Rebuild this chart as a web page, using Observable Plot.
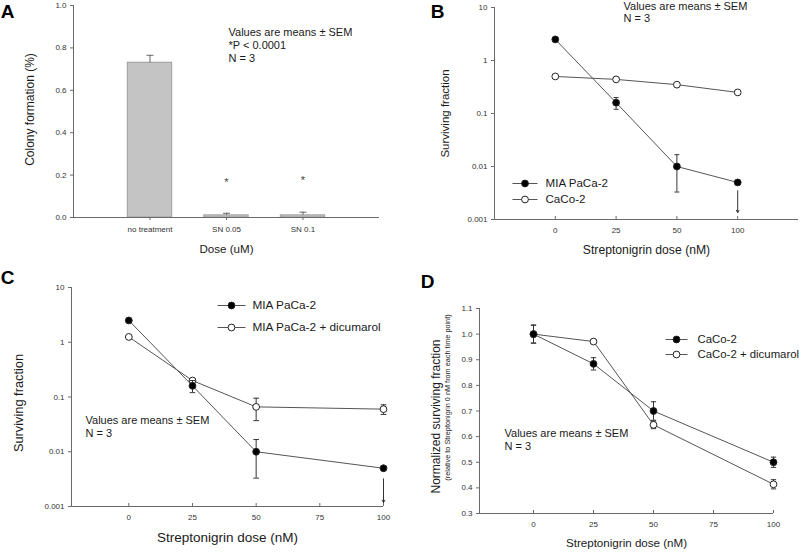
<!DOCTYPE html>
<html><head><meta charset="utf-8">
<script src="https://cdn.jsdelivr.net/npm/d3@7"></script>
<script src="https://cdn.jsdelivr.net/npm/@observablehq/plot@0.6"></script>
<style>
body{margin:0;background:#fff;}
#fig{position:relative;width:800px;height:552px;overflow:hidden;background:#fff;}
#fig svg{position:absolute;}
</style></head><body><div id="fig"></div>
<script>
// ---------- Panel A data ----------
const doseLabelsA = ["no treatment", "SN 0.05", "SN 0.1"];
const colonyMean = [0.73, 0.01, 0.01];
const colonySem = [0.035, 0.01, 0.015];
const sigMark = ["", "*", "*"];
const sigY = [null, 0.165, 0.174];
const yTicksA = [0, 0.2, 0.4, 0.6, 0.8, 1.0];

// ---------- Panel B data ----------
const doseB = [0, 25, 50, 100];          // categorical, equally spaced
const miaB = [2.5, 0.16, 0.01, 0.005];
const miaBSem = [0, 0.04, 0.0067, 0];
const cacoB = [0.5, 0.44, 0.35, 0.25];
const cacoBSem = [0, 0, 0.02, 0];
const offscaleB = {dose: 100, from: 0.0035, to: 0.00135};
const logTicks = [0.001, 0.01, 0.1, 1, 10];
const logTickLabels = ["0.001", "0.01", "0.1", "1", "10"];

// ---------- Panel C data ----------
const doseC = [0, 25, 50, 100];
const miaC = [2.5, 0.16, 0.01, 0.005];
const miaCSem = [0, 0.04, 0.0067, 0];
const dicC = [1.25, 0.2, 0.066, 0.06];
const dicCSem = [0, 0, 0.029, 0.012];
const offscaleC = {dose: 100, from: 0.0032, to: 0.00118};
const xTicksCD = [0, 25, 50, 75, 100];

// ---------- Panel D data ----------
const doseD = [0, 25, 50, 100];
const cacoD = [1.0, 0.884, 0.70, 0.50];
const cacoDSem = [0.035, 0.024, 0.036, 0.02];
const dicD = [1.0, 0.971, 0.646, 0.414];
const dicDSem = [0.035, 0, 0.015, 0.018];
const yTicksD = [0.3, 0.4, 0.5, 0.6, 0.7, 0.8, 0.9, 1.0, 1.1];

const noteLines = ["Values are means \u00b1 SEM", "N = 3"];
const noteLinesA = ["Values are means \u00b1 SEM", "*P < 0.0001", "N = 3"];

// ---------- helpers ----------
const FONT = "'Liberation Sans', Arial, Helvetica, sans-serif";
const LINE = "#555", AXIS = "#6a6a6a", TXT = "#1a1a1a", TICKTXT = "#333";
const fig = document.getElementById("fig");

function place(svg, left, top) {
  svg.style.left = left + "px";
  svg.style.top = top + "px";
  fig.appendChild(svg);
}
const baseStyle = {background: "transparent", fontFamily: FONT, fontSize: "8px", color: TICKTXT, overflow: "visible"};

function hseg(len) {
  return {draw(ctx) { ctx.moveTo(-len / 2, 0); ctx.lineTo(len / 2, 0); }};
}
function seriesMarks(xs, ys, sems, filled, capHalf) {
  const rows = xs.map((x, i) => ({x, y: ys[i], sem: sems[i]}));
  const eb = rows.filter(d => d.sem > 0).map(d => ({x: d.x, lo: d.y - d.sem, hi: d.y + d.sem}));
  const caps = eb.flatMap(d => [{x: d.x, y: d.hi}, {x: d.x, y: d.lo}]);
  return [
    Plot.line(rows, {x: "x", y: "y", stroke: LINE, strokeWidth: 1}),
    Plot.ruleX(eb, {x: "x", y1: "lo", y2: "hi", stroke: "#333", strokeWidth: 1}),
    Plot.link(caps, {x1: d => d.x - capHalf, x2: d => d.x + capHalf, y1: "y", y2: "y", stroke: "#333", strokeWidth: 1}),
    Plot.dot(rows, {x: "x", y: "y", r: 3.4, fill: filled ? "#000" : "#fff", stroke: "#222", strokeWidth: 1})
  ];
}
function legendMarks(items, {x0, x1, xt, ys, fontSize}) {
  return items.flatMap((it, k) => [
    Plot.dot([it], {frameAnchor: "top-left", dx: (x0 + x1) / 2, dy: ys[k], symbol: hseg(x1 - x0), stroke: LINE, fill: "none", strokeWidth: 1}),
    Plot.dot([it], {frameAnchor: "top-left", dx: (x0 + x1) / 2, dy: ys[k], r: 3.4, fill: it.filled ? "#000" : "#fff", stroke: "#222", strokeWidth: 1}),
    Plot.text([it.label], {frameAnchor: "top-left", dx: xt, dy: ys[k], textAnchor: "start", lineAnchor: "middle", fontSize, fill: TXT})
  ]);
}
function noteMarks(lines, dx, dys, fontSize = 11) {
  return lines.map((t, k) => Plot.text([t], {frameAnchor: "top-left", dx, dy: dys[k], textAnchor: "start", lineAnchor: "middle", fontSize, fill: TXT}));
}
function letterMark(t, dx, dy) {
  return Plot.text([t], {frameAnchor: "top-left", dx, dy, fontSize: 19, fontWeight: "bold", fill: "#000", lineAnchor: "middle", textAnchor: "middle"});
}
function yLabelMark(t, dx, dy, fontSize) {
  return Plot.text([t], {frameAnchor: "left", dx, dy, rotate: -90, fontSize, fill: TXT, lineAnchor: "middle", textAnchor: "middle"});
}
function xLabelMark(t, dy, fontSize) {
  return Plot.text([t], {frameAnchor: "bottom", dy, fontSize, fill: TXT, lineAnchor: "middle"});
}

// ---------- Panel A ----------
{
  const W = 400, H = 270, ml = 73, mr = 21, mt = 5, mb = 53;
  const rows = doseLabelsA.map((label, i) => ({i: i + 1, label, mean: colonyMean[i], sem: colonySem[i], sig: sigMark[i], sigY: sigY[i]}));
  const svg = Plot.plot({
    width: W, height: H, marginLeft: ml, marginRight: mr, marginTop: mt, marginBottom: mb,
    style: baseStyle,
    x: {domain: [0, 4]},
    y: {domain: [0, 1]},
    marks: [
      Plot.rect(rows, {x1: d => d.i - 0.29, x2: d => d.i + 0.29, y1: 0, y2: "mean", fill: "#c4c4c4", stroke: "#9c9c9c", strokeWidth: 1}),
      Plot.ruleX(rows, {x: "i", y1: "mean", y2: d => d.mean + d.sem, stroke: "#666"}),
      Plot.link(rows, {x1: d => d.i - 0.045, x2: d => d.i + 0.045, y1: d => d.mean + d.sem, y2: d => d.mean + d.sem, stroke: "#666"}),
      Plot.text(rows.filter(d => d.sig), {x: "i", y: "sigY", text: "sig", fontSize: 11, fill: "#444", lineAnchor: "middle"}),
      Plot.ruleY([0], {stroke: AXIS}),
      Plot.ruleX([0], {stroke: AXIS}),
      Plot.axisY({ticks: yTicksA, tickFormat: d3.format(".1f"), tickSize: 3, tickPadding: 4, label: null, stroke: AXIS, fill: TICKTXT, fontSize: 8}),
      Plot.axisX({ticks: [1, 2, 3], tickFormat: i => doseLabelsA[i - 1], tickSize: 3, tickPadding: 6, label: null, stroke: AXIS, fill: TICKTXT, fontSize: 8}),
      yLabelMark("Colony formation (%)", -43, -2, 12),
      xLabelMark("Dose (uM)", 32, 11.6),
      ...noteMarks(noteLinesA, 155, [27, 40, 52.5]),
      letterMark("A", -66, 6)
    ]
  });
  place(svg, 0, 0);
}

// ---------- Panel B ----------
{
  const W = 400, H = 270, ml = 94, mr = 2, mt = 7, mb = 51;
  const fh = H - mt - mb;
  const xs = doseB.map((d, i) => i);
  const svg = Plot.plot({
    width: W, height: H, marginLeft: ml, marginRight: mr, marginTop: mt, marginBottom: mb,
    style: baseStyle,
    x: {domain: [-1, 4]},
    y: {type: "log", domain: [0.001, 10]},
    marks: [
      ...seriesMarks(xs, cacoB, cacoBSem, false, 0.04),
      ...seriesMarks(xs, miaB, miaBSem, true, 0.04),
      Plot.arrow([offscaleB], {x1: d => doseB.indexOf(d.dose), x2: d => doseB.indexOf(d.dose), y1: "from", y2: "to", headLength: 4, stroke: "#333", strokeWidth: 1}),
      Plot.ruleY([0.001], {stroke: AXIS}),
      Plot.ruleX([-1], {stroke: AXIS}),
      Plot.ruleX(xs, {stroke: AXIS, insetTop: fh - 3}),
      Plot.axisY({ticks: logTicks, tickFormat: d => logTickLabels[logTicks.indexOf(d)], tickSize: 3, tickPadding: 4, label: null, stroke: AXIS, fill: TICKTXT, fontSize: 8}),
      Plot.axisX({ticks: xs, tickFormat: i => String(doseB[i]), tickSize: 0, tickPadding: 8, label: null, fill: TICKTXT, fontSize: 8}),
      yLabelMark("Surviving fraction", -49, 0, 11.5),
      xLabelMark("Streptonigrin dose (nM)", 31, 12.2),
      ...noteMarks(noteLines, 129, [-1, 10.5]),
      ...legendMarks([{label: "MIA PaCa-2", filled: true}, {label: "CaCo-2", filled: false}], {x0: 18, x1: 43, xt: 51, ys: [176, 192], fontSize: 11.6}),
      letterMark("B", -57, 4)
    ]
  });
  place(svg, 400, 0);
}

// ---------- Panel C ----------
{
  const W = 400, H = 282, ml = 71, mr = 17, mt = 17, mb = 46;
  const fh = H - mt - mb;
  const svg = Plot.plot({
    width: W, height: H, marginLeft: ml, marginRight: mr, marginTop: mt, marginBottom: mb,
    style: baseStyle,
    x: {domain: [-22.5, 100]},
    y: {type: "log", domain: [0.001, 10]},
    marks: [
      ...seriesMarks(doseC, dicC, dicCSem, false, 1.1),
      ...seriesMarks(doseC, miaC, miaCSem, true, 1.1),
      Plot.arrow([offscaleC], {x1: "dose", x2: "dose", y1: "from", y2: "to", headLength: 4, stroke: "#333", strokeWidth: 1}),
      Plot.ruleY([0.001], {stroke: AXIS}),
      Plot.ruleX([-22.5], {stroke: AXIS}),
      Plot.ruleX(xTicksCD, {stroke: AXIS, insetTop: fh - 3}),
      Plot.axisY({ticks: logTicks, tickFormat: d => logTickLabels[logTicks.indexOf(d)], tickSize: 3, tickPadding: 4, label: null, stroke: AXIS, fill: TICKTXT, fontSize: 8}),
      Plot.axisX({ticks: xTicksCD, tickFormat: d => String(d), tickSize: 0, tickPadding: 8, label: null, fill: TICKTXT, fontSize: 8}),
      yLabelMark("Surviving fraction", -53, 6, 12.8),
      xLabelMark("Streptonigrin dose (nM)", 31, 13.5),
      ...noteMarks(noteLines, 14, [132.5, 146]),
      ...legendMarks([{label: "MIA PaCa-2", filled: true}, {label: "MIA PaCa-2 + dicumarol", filled: false}], {x0: 146, x1: 174, xt: 181, ys: [18, 40], fontSize: 11.8}),
      letterMark("C", -64, -10)
    ]
  });
  place(svg, 0, 270);
}

// ---------- Panel D ----------
{
  const W = 400, H = 282, ml = 79, mr = 27, mt = 38, mb = 39;
  const fh = H - mt - mb;
  const svg = Plot.plot({
    width: W, height: H, marginLeft: ml, marginRight: mr, marginTop: mt, marginBottom: mb,
    style: baseStyle,
    x: {domain: [-22.5, 100]},
    y: {domain: [0.3, 1.1]},
    marks: [
      ...seriesMarks(doseD, dicD, dicDSem, false, 1.1),
      ...seriesMarks(doseD, cacoD, cacoDSem, true, 1.1),
      Plot.ruleY([0.3], {stroke: AXIS}),
      Plot.ruleX([-22.5], {stroke: AXIS}),
      Plot.ruleX(xTicksCD, {stroke: AXIS, insetTop: fh - 3}),
      Plot.axisY({ticks: yTicksD, tickFormat: d3.format(".1f"), tickSize: 3, tickPadding: 4, label: null, stroke: AXIS, fill: TICKTXT, fontSize: 8}),
      Plot.axisX({ticks: xTicksCD, tickFormat: d => String(d), tickSize: 0, tickPadding: 8, label: null, fill: TICKTXT, fontSize: 8}),
      yLabelMark("Normalized surviving fraction", -43, 5.5, 12),
      yLabelMark("(relative to Streptonigrin 0 nM from each time point)", -32, -13.5, 7.3),
      xLabelMark("Streptonigrin dose (nM)", 30, 11.6),
      ...noteMarks(noteLines, 25, [124.5, 137.5]),
      ...legendMarks([{label: "CaCo-2", filled: true}, {label: "CaCo-2 + dicumarol", filled: false}], {x0: 186, x1: 208, xt: 218, ys: [31, 46], fontSize: 11.4}),
      letterMark("D", -52, -27)
    ]
  });
  place(svg, 400, 270);
}
</script></body></html>
